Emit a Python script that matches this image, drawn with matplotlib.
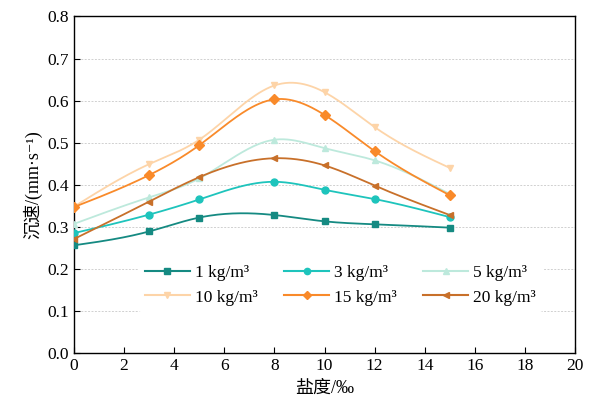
import numpy as np
import matplotlib
matplotlib.use("Agg")
import matplotlib.pyplot as plt

plt.rcParams['font.family'] = ['Liberation Serif', 'Noto Sans CJK SC', 'DejaVu Serif']

salinity = [0, 3, 5, 8, 10, 12, 15]
labels = ['1 kg/m³', '3 kg/m³', '5 kg/m³', '10 kg/m³', '15 kg/m³', '20 kg/m³']
v1 = [0.256, 0.289, 0.322, 0.328, 0.313, 0.306, 0.298]
v3 = [0.285, 0.329, 0.365, 0.407, 0.388, 0.366, 0.323]
v5 = [0.307, 0.370, 0.415, 0.507, 0.487, 0.458, 0.378]
v10 = [0.348, 0.449, 0.507, 0.636, 0.620, 0.537, 0.440]
v15 = [0.347, 0.423, 0.494, 0.603, 0.566, 0.480, 0.375]
v20 = [0.271, 0.360, 0.418, 0.463, 0.446, 0.398, 0.328]

colors = ['#158a82', '#1ec4bc', '#bde9dc', '#fdd4a8', '#f98a2a', '#c8702a']
markers = ['s', 'o', '^', 'v', 'D', '<']


def spline(x, y, n=200):
    # natural cubic spline, only for drawing the smooth curve
    x = np.asarray(x, float)
    y = np.asarray(y, float)
    m = len(x)
    h = np.diff(x)
    A = np.zeros((m, m))
    b = np.zeros(m)
    A[0, 0] = A[-1, -1] = 1
    for i in range(1, m - 1):
        A[i, i - 1] = h[i - 1]
        A[i, i] = 2 * (h[i - 1] + h[i])
        A[i, i + 1] = h[i]
        b[i] = 6 * ((y[i + 1] - y[i]) / h[i] - (y[i] - y[i - 1]) / h[i - 1])
    M = np.linalg.solve(A, b)
    xs = np.linspace(x[0], x[-1], n)
    k = np.clip(np.searchsorted(x, xs) - 1, 0, m - 2)
    t0 = x[k + 1] - xs
    t1 = xs - x[k]
    hk = h[k]
    ys = (M[k] * t0 ** 3 + M[k + 1] * t1 ** 3) / (6 * hk) \
        + (y[k] / hk - M[k] * hk / 6) * t0 + (y[k + 1] / hk - M[k + 1] * hk / 6) * t1
    return xs, ys


fig = plt.figure(figsize=(5.95, 4.08), dpi=100)
ax = fig.add_axes([0.1244, 0.1348, 0.842, 0.8248])

series = [v1, v3, v5, v10, v15, v20]
handles = []
for vals, lab, c, mk in zip(series, labels, colors, markers):
    xs, ys = spline(salinity, vals)
    ax.plot(xs, ys, color=c, lw=1.3, zorder=3)
    ax.plot(salinity, vals, color=c, lw=0, marker=mk, ms=5, zorder=4)
    h, = ax.plot([], [], color=c, lw=1.5, marker=mk, ms=4.5, label=lab)
    handles.append(h)

ax.set_xlim(0, 20)
ax.set_ylim(0, 0.8)
ax.set_xticks(range(0, 21, 2))
ax.set_yticks(np.arange(0, 0.81, 0.1))
ax.set_yticklabels([f'{v:.1f}' for v in np.arange(0, 0.81, 0.1)])
ax.tick_params(direction='in', labelsize=12.5, length=4, width=0.8)
ax.grid(axis='y', color='#d0d0d0', ls=(0, (2, 1.5)), lw=0.7)
ax.set_axisbelow(True)
for s in ax.spines.values():
    s.set_linewidth(1.0)

ax.set_xlabel('盐度/‰', fontsize=13)
ax.set_ylabel('沉速/(mm·s⁻¹)', fontsize=13)

# legend filled row by row
order = [0, 3, 1, 4, 2, 5]
leg = ax.legend([handles[i] for i in order], [labels[i] for i in order],
                ncol=3, loc='center', bbox_to_anchor=(0.532, 0.202), frameon=True,
                fontsize=12.5, handlelength=2.6, columnspacing=1.5, labelspacing=0.5,
                handletextpad=0.3)
leg.get_frame().set_edgecolor('none')
leg.get_frame().set_facecolor('white')
leg.get_frame().set_alpha(1)

fig.savefig('out.png', dpi=100)
